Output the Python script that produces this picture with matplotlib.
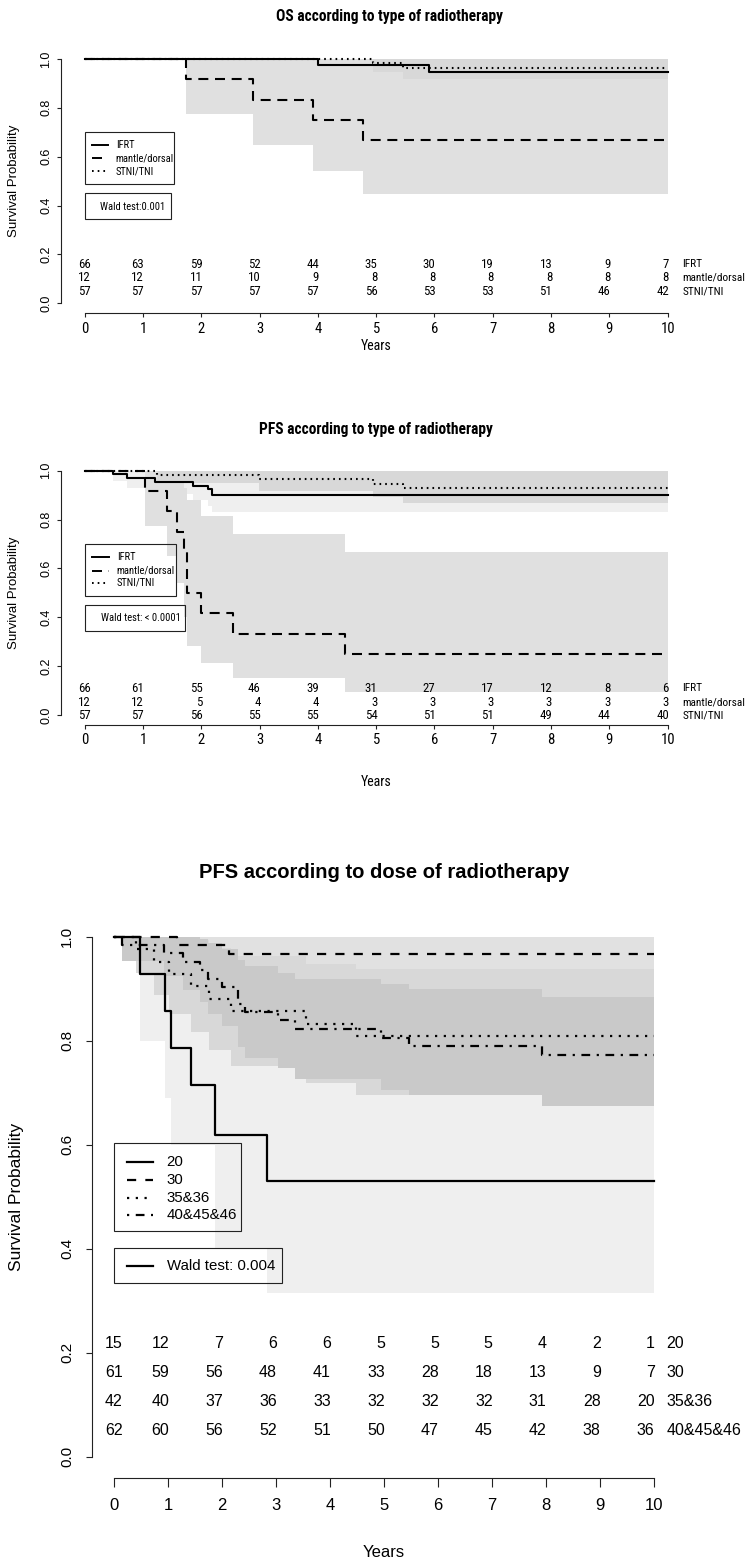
import numpy as np
import matplotlib
matplotlib.use("Agg")
import matplotlib.pyplot as plt
from matplotlib import font_manager
from matplotlib.lines import Line2D
from matplotlib.patches import Rectangle

plt.rcParams['lines.scale_dashes'] = False

W, H = 746, 1562
REG = ['Liberation Sans', 'DejaVu Sans']

# pick a narrow face for the two upper panels (R's condensed look)
_fonts = font_manager.fontManager.ttflist
_names = {f.name for f in _fonts}
if 'Liberation Sans Narrow' in _names:
    NARROW, NSTRETCH, NS = ['Liberation Sans Narrow', 'DejaVu Sans'], 'normal', 1.0
elif 'Roboto Condensed' in _names:
    NARROW, NSTRETCH, NS = ['Roboto Condensed', 'DejaVu Sans'], 'normal', 0.95
elif any(f.name == 'DejaVu Sans' and 'Condensed' in f.fname for f in _fonts):
    NARROW, NSTRETCH, NS = ['DejaVu Sans'], 'condensed', 0.86
else:
    NARROW, NSTRETCH, NS = ['Liberation Sans', 'DejaVu Sans'], 'normal', 0.84

# ------------------------------------------------------------------ data
x_ticks = [0, 1, 2, 3, 4, 5, 6, 7, 8, 9, 10]
y_ticks = [0.0, 0.2, 0.4, 0.6, 0.8, 1.0]
y_ticklabels = ["0.0", "0.2", "0.4", "0.6", "0.8", "1.0"]

type_groups = ["IFRT", "mantle/dorsal", "STNI/TNI"]
dose_groups = ["20", "30", "35&36", "40&45&46"]

# OS according to type of radiotherapy
os_ifrt_t = [0, 4.01, 5.91]
os_ifrt_s = [1.0, 0.977, 0.945]
os_ifrt_lo = [1.0, 0.930, 0.880]
os_ifrt_hi = [1.0, 1.0, 1.0]

os_mantle_t = [0, 1.745, 2.89, 3.91, 4.78]
os_mantle_s = [1.0, 0.917, 0.833, 0.750, 0.667]
os_mantle_lo = [1.0, 0.774, 0.647, 0.541, 0.446]
os_mantle_hi = [1.0, 1.0, 1.0, 1.0, 1.0]

os_stni_t = [0, 4.95, 5.46]
os_stni_s = [1.0, 0.982, 0.965]
os_stni_lo = [1.0, 0.948, 0.918]
os_stni_hi = [1.0, 1.0, 1.0]

os_risk_ifrt = [66, 63, 59, 52, 44, 35, 30, 19, 13, 9, 7]
os_risk_mantle = [12, 12, 11, 10, 9, 8, 8, 8, 8, 8, 8]
os_risk_stni = [57, 57, 57, 57, 57, 56, 53, 53, 51, 46, 42]

# PFS according to type of radiotherapy
pfs_ifrt_t = [0, 0.49, 0.73, 1.20, 1.85, 2.11, 2.18]
pfs_ifrt_s = [1.0, 0.985, 0.970, 0.955, 0.939, 0.924, 0.902]
pfs_ifrt_lo = [1.0, 0.957, 0.930, 0.905, 0.880, 0.855, 0.829]
pfs_ifrt_hi = [1.0, 1.0, 1.0, 1.0, 0.990, 0.980, 0.975]

pfs_mantle_t = [0, 1.04, 1.42, 1.58, 1.71, 1.75, 2.00, 2.54, 4.47]
pfs_mantle_s = [1.0, 0.917, 0.833, 0.750, 0.667, 0.500, 0.417, 0.333, 0.250]
pfs_mantle_lo = [1.0, 0.775, 0.649, 0.542, 0.400, 0.283, 0.214, 0.150, 0.094]
pfs_mantle_hi = [1.0, 1.0, 1.0, 0.990, 0.930, 0.880, 0.814, 0.742, 0.667]

pfs_stni_t = [0, 1.24, 2.99, 4.95, 5.46]
pfs_stni_s = [1.0, 0.982, 0.965, 0.947, 0.929]
pfs_stni_lo = [1.0, 0.948, 0.916, 0.893, 0.867]
pfs_stni_hi = [1.0, 1.0, 1.0, 1.0, 1.0]

pfs_risk_ifrt = [66, 61, 55, 46, 39, 31, 27, 17, 12, 8, 6]
pfs_risk_mantle = [12, 12, 5, 4, 4, 3, 3, 3, 3, 3, 3]
pfs_risk_stni = [57, 57, 56, 55, 55, 54, 51, 51, 49, 44, 40]

# PFS according to dose of radiotherapy
d20_t = [0, 0.49, 0.94, 1.06, 1.43, 1.87, 2.84]
d20_s = [1.0, 0.929, 0.857, 0.786, 0.714, 0.619, 0.531]
d20_lo = [1.0, 0.800, 0.690, 0.600, 0.600, 0.400, 0.314]
d20_hi = [1.0, 1.0, 1.0, 1.0, 0.950, 0.870, 0.800]

d30_t = [0, 1.17, 2.13]
d30_s = [1.0, 0.984, 0.967]
d30_lo = [1.0, 0.953, 0.922]
d30_hi = [1.0, 1.0, 1.0]

d35_t = [0, 0.40, 0.74, 1.02, 1.42, 1.76, 2.16, 3.55, 4.49]
d35_s = [1.0, 0.976, 0.952, 0.929, 0.905, 0.881, 0.857, 0.833, 0.810]
d35_lo = [1.0, 0.930, 0.887, 0.851, 0.816, 0.783, 0.751, 0.719, 0.696]
d35_hi = [1.0, 1.0, 1.0, 1.0, 0.994, 0.979, 0.963, 0.947, 0.937]

d40_t = [0, 0.14, 0.93, 1.27, 1.59, 1.74, 2.00, 2.30, 2.42, 3.04, 3.36, 4.94, 5.47, 7.94]
d40_s = [1.0, 0.984, 0.968, 0.952, 0.935, 0.919, 0.903, 0.871, 0.855, 0.839, 0.823, 0.806, 0.790, 0.772]
d40_lo = [1.0, 0.953, 0.924, 0.898, 0.874, 0.851, 0.829, 0.787, 0.767, 0.747, 0.727, 0.706, 0.696, 0.674]
d40_hi = [1.0, 1.0, 1.0, 1.0, 0.996, 0.987, 0.977, 0.955, 0.943, 0.931, 0.919, 0.910, 0.899, 0.885]

dose_risk_20 = [15, 12, 7, 6, 6, 5, 5, 5, 4, 2, 1]
dose_risk_30 = [61, 59, 56, 48, 41, 33, 28, 18, 13, 9, 7]
dose_risk_35 = [42, 40, 37, 36, 33, 32, 32, 32, 31, 28, 20]
dose_risk_40 = [62, 60, 56, 52, 51, 50, 47, 45, 42, 38, 36]

T_END = 10

# ------------------------------------------------------------------ helpers
fig = plt.figure(figsize=(W / 100, H / 100), dpi=100)
fig.patch.set_facecolor('white')


def nkw(size, **extra):
    d = dict(family=NARROW, fontsize=size * NS, fontstretch=NSTRETCH)
    d.update(extra)
    return d


def rkw(size, **extra):
    d = dict(family=REG, fontsize=size)
    d.update(extra)
    return d


def fx(x):
    return x / W


def fy(y):
    return 1 - y / H


def ftext(x, y, s, **kw):
    fig.text(fx(x), fy(y), s, **kw)


def make_axes(L, R, T, B):
    ax = fig.add_axes([fx(L), fy(B), (R - L) / W, (B - T) / H])
    ax.set_xlim(-0.4, 10.4)
    ax.set_ylim(-0.04, 1.04)
    ax.patch.set_alpha(0)
    for s in ['top', 'right']:
        ax.spines[s].set_visible(False)
    ax.spines['left'].set_bounds(0, 1)
    ax.spines['bottom'].set_bounds(0, 10)
    for s in ['left', 'bottom']:
        ax.spines[s].set_color('#222222')
        ax.spines[s].set_linewidth(0.8)
    ax.set_xticks(x_ticks)
    ax.set_yticks(y_ticks)
    return ax


def ext(t, v):
    return list(t) + [T_END], list(v) + [v[-1]]


def band(ax, t, lo, hi, color):
    tt, ll = ext(t, lo)
    _, hh = ext(t, hi)
    ax.fill_between(tt, ll, hh, step='post', color=color, lw=0, zorder=1)


def curve(ax, t, s, ls, lw):
    tt, ss = ext(t, s)
    ax.step(tt, ss, where='post', color='black', lw=lw, linestyle=ls, zorder=3)


def legend_box(x0, y0, x1, y1):
    fig.add_artist(Rectangle((fx(x0), fy(y1)), (x1 - x0) / W, (y1 - y0) / H,
                             transform=fig.transFigure, fill=False,
                             ec='#222222', lw=0.8))


def legend_line(x0, x1, y, ls, lw):
    fig.add_artist(Line2D([fx(x0), fx(x1)], [fy(y), fy(y)],
                          transform=fig.transFigure, color='black',
                          lw=lw, linestyle=ls))


def risk_rows(ax, rows, ys, labels, label_x, fkw, lkw):
    for vals, y, lab in zip(rows, ys, labels):
        for i, v in enumerate(vals):
            ha = 'center' if i == 0 else 'right'
            xx = x_ticks[i] if i == 0 else x_ticks[i] + 0.02
            ax.text(xx, y, str(v), ha=ha, va='center', clip_on=False, **fkw)
        ax.text(label_x, y, lab, ha='left', va='center', clip_on=False, **lkw)


def style_ticks(ax, xkw, xpad, ykw, ypad, xlen, ylen):
    ax.tick_params(axis='x', length=xlen, width=0.8, pad=xpad, color='#222222')
    ax.tick_params(axis='y', length=ylen, width=0.8, pad=ypad, color='#222222')
    ax.set_xticklabels([str(v) for v in x_ticks], **xkw)
    ax.set_yticklabels(y_ticklabels, rotation=90, va='center', **ykw)


# line styles
TOP_SOLID = '-'
TOP_DASH = (0, (7.2, 4.8))
TOP_DOT = (0, (1.2, 2.9))
BOT_SOLID = '-'
BOT_DASH = (0, (6.6, 6.6))
BOT_DOT = (0, (1.6, 4.7))
BOT_DASHDOT = (0, (1.6, 4.7, 6.3, 4.7))

C_LIGHT = '#efefef'
C_MID = '#e0e0e0'
C_DARK = '#d8d8d8'

# ------------------------------------------------------------------ panel 1
ax1 = make_axes(61.4, 691.0, 49.2, 313.1)
band(ax1, os_ifrt_t, os_ifrt_lo, os_ifrt_hi, C_LIGHT)
band(ax1, os_mantle_t, os_mantle_lo, os_mantle_hi, C_MID)
band(ax1, os_stni_t, os_stni_lo, os_stni_hi, C_DARK)
curve(ax1, os_ifrt_t, os_ifrt_s, TOP_SOLID, 1.5)
curve(ax1, os_mantle_t, os_mantle_s, TOP_DASH, 1.5)
curve(ax1, os_stni_t, os_stni_s, TOP_DOT, 1.5)
style_ticks(ax1, nkw(11.2), 3.0, rkw(9), 3.6, 3.1, 3.1)
risk_rows(ax1, [os_risk_ifrt, os_risk_mantle, os_risk_stni],
          [0.160, 0.105, 0.047], type_groups, 10.25, nkw(9.8), nkw(8.6))

ftext(389.5, 17, "OS according to type of radiotherapy", ha='center',
      va='center', **nkw(11.8, fontweight='bold'))
ftext(376, 345.7, "Years", ha='center', va='center', **nkw(10.5))
ftext(14, 181.2, "Survival Probability", ha='center', va='center',
      rotation=90, **rkw(9.5))

legend_box(84.7, 132.3, 174.0, 183.7)
for y, ls, lab in zip([145.0, 158.3, 171.3], [TOP_SOLID, TOP_DASH, TOP_DOT], type_groups):
    legend_line(91.7, 108.3, y, ls, 1.4)
    ftext(115.7, y, lab, ha='left', va='center', **nkw(8.0))
legend_box(84.7, 193.3, 171.3, 219.3)
ftext(100, 207, "Wald test:0.001", ha='left', va='center', **nkw(8.0))

# ------------------------------------------------------------------ panel 2
ax2 = make_axes(61.4, 691.0, 460.9, 724.8)
band(ax2, pfs_ifrt_t, pfs_ifrt_lo, pfs_ifrt_hi, C_LIGHT)
band(ax2, pfs_mantle_t, pfs_mantle_lo, pfs_mantle_hi, C_MID)
band(ax2, pfs_stni_t, pfs_stni_lo, pfs_stni_hi, C_DARK)
curve(ax2, pfs_ifrt_t, pfs_ifrt_s, TOP_SOLID, 1.5)
curve(ax2, pfs_mantle_t, pfs_mantle_s, TOP_DASH, 1.5)
curve(ax2, pfs_stni_t, pfs_stni_s, TOP_DOT, 1.5)
style_ticks(ax2, nkw(11.2), 3.0, rkw(9), 3.6, 3.1, 3.1)
risk_rows(ax2, [pfs_risk_ifrt, pfs_risk_mantle, pfs_risk_stni],
          [0.109, 0.053, -0.003], type_groups, 10.25, nkw(9.8), nkw(8.6))

ftext(375.8, 429.3, "PFS according to type of radiotherapy", ha='center',
      va='center', **nkw(11.8, fontweight='bold'))
ftext(376, 781.7, "Years", ha='center', va='center', **nkw(10.5))
ftext(14, 592.9, "Survival Probability", ha='center', va='center',
      rotation=90, **rkw(9.5))

legend_box(84.7, 544.0, 175.7, 595.7)
for y, ls, lab in zip([557.3, 570.7, 582.7], [TOP_SOLID, TOP_DASH, TOP_DOT], type_groups):
    legend_line(92.3, 109.0, y, ls, 1.4)
    ftext(116.7, y, lab, ha='left', va='center', **nkw(8.0))
legend_box(84.7, 605.3, 185.3, 630.7)
ftext(100.7, 618, "Wald test: < 0.0001", ha='left', va='center', **nkw(8.0))

# ------------------------------------------------------------------ panel 3
ax3 = make_axes(92.4, 675.1, 915.9, 1477.5)
band(ax3, d20_t, d20_lo, d20_hi, '#efefef')
band(ax3, d30_t, d30_lo, d30_hi, '#e1e1e1')
band(ax3, d35_t, d35_lo, d35_hi, '#d8d8d8')
band(ax3, d40_t, d40_lo, d40_hi, '#c9c9c9')
curve(ax3, d20_t, d20_s, BOT_SOLID, 1.6)
curve(ax3, d30_t, d30_s, BOT_DASH, 1.6)
curve(ax3, d35_t, d35_s, BOT_DOT, 1.6)
curve(ax3, d40_t, d40_s, BOT_DASHDOT, 1.6)
style_ticks(ax3, rkw(12), 8.0, rkw(11), 9.0, 6.5, 4.0)
risk_rows(ax3, [dose_risk_20, dose_risk_30, dose_risk_35, dose_risk_40],
          [0.218, 0.162, 0.106, 0.051], dose_groups, 10.24, rkw(11.5), rkw(11.5))

ftext(383.7, 872, "PFS according to dose of radiotherapy", ha='center',
      va='center', **rkw(14.5, fontweight='bold'))
ftext(383.7, 1552.7, "Years", ha='center', va='center', **rkw(12))
ftext(16.6, 1196.7, "Survival Probability", ha='center', va='center',
      rotation=90, **rkw(12.5))

legend_box(114.0, 1143.3, 240.7, 1230.7)
for y, ls, lab in zip([1162.3, 1180.0, 1197.7, 1215.0],
                      [BOT_SOLID, BOT_DASH, BOT_DOT, BOT_DASHDOT], dose_groups):
    legend_line(126.7, 153.3, y, ls, 1.6)
    ftext(166.7, y, lab, ha='left', va='center', **rkw(10.8))
legend_box(114.0, 1247.7, 281.7, 1283.3)
legend_line(126.7, 153.3, 1265.7, BOT_SOLID, 1.6)
ftext(166.7, 1265.7, "Wald test: 0.004", ha='left', va='center', **rkw(10.8))

fig.savefig("out.png", dpi=100, facecolor='white')
